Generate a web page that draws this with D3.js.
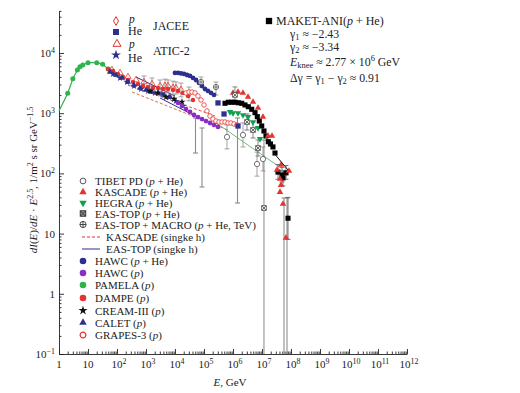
<!DOCTYPE html>
<html><head><meta charset="utf-8">
<script src="https://cdn.jsdelivr.net/npm/d3@7"></script>
<style>body{margin:0;background:#fff}svg{display:block}text{font-family:"Liberation Serif","Times New Roman",serif;fill:#222}</style>
</head><body><svg id="c" width="520" height="393"></svg>
<script>
// ---------- data (E in GeV, flux dI/dE*E^2.5) ----------
const xTickExp = [0,1,2,3,4,5,6,7,8,9,10,11,12];
const yTickExp = [-1,0,1,2,3,4];

const pamelaE = [2,3,4.3,5.3,6.6,10,20,32,50,70,100];
const pamelaF = [2140,3740,5200,5900,6300,6900,6900,6500,5400,4900,4300];
const pamelaFitE = [1,2,3,4.3,5.3,6.6,10,20,32,50,70,100];
const pamelaFitF = [1090,2140,3740,5200,5900,6300,6900,6900,6500,5400,4900,4300];

const dampeE = [49,73,108,161,239,356,530,789,1170,1740,2590,3860,5740,8530,12700,18900,28100,41800];
const dampeF = [5420,5020,4480,4000,3560,3300,3050,2830,2720,2620,2620,2520,2520,2430,2340,2170,1930,1660];

const caletE = [57,92,149,239,386,621,1000,1610,2590,4180,6730];
const caletF = [4830,4310,3850,3300,2940,2620,2430,2250,2170,2010,1860];

const aticHeE = [73,127,221,386,673,1170,2040,3560,6210,10800,18900];
const aticHeF = [4480,3850,3300,2830,2520,2340,2170,2090,1860,1590,1320];

const aticPE = [67,127,239,452,853,1610,3040,5740,10800];
const aticPF = [5220,4660,4000,3560,3300,3050,2830,2830,2620];

const creamE = [1370,2590,4900,9250,17400];
const creamF = [2340,2170,1860,1720,1540];

const jaceePE = [4520,8530,16100,30400];
const jaceePF = [2830,2620,2430,2090];

const hawcPHeE = [10000,12700,16100,20400,25900,32900,41800,53000,67300,85300,108000,137000,174000,221000];
const hawcPHeF = [4660,4660,4570,4480,4310,4150,3850,3560,3180,2830,2520,2340,2170,2010];

const hawcPE = [12700,17400,23900,32900,45200,62100,85300,117000,161000,221000,304000];
const hawcPF = [1480,1320,1170,1050,933,863,799,741,687,637,591];

const grapesE = [23900,30400,38500,49000,62100,78800,100000,127000,161000,204000,259000,329000,418000,530000,673000,853000,1080000,1370000];
const grapesF = [2170,2250,2250,2170,1930,1660,1370,1090,898,801,741,714,714,714,687,687,662,637];

const jaceeHeE = [304000,490000,1490000];
const jaceeHeF = [1480,970,613];

const emE = [78800,259000];
const emF = [3300,2720];
const emLo = [2720,2010];
const emHi = [3990,3300];

const hegraE = [789000,1.0e6,1.49e6,2.21e6,3.29e6,4.9e6,7.28e6,8.53e6];
const hegraF = [1047,1007,1007,933,865,714,568,373];

const kascE = [1.0e6,1.49e6,2.21e6,3.29e6,4.9e6,7.28e6,1.08e7,1.61e7,2.21e7,3.29e7,4.52e7,8.53e7,4.18e7,4.52e7,4.18e7,5.3e7,6.73e7];
const kascF = [2170,2250,2170,1860,1535,1220,865,418,418,114,138,110,81,64,49,31,8.5];

const maketE = [5.3e5,6.89e5,9.02e5,1.17e6,1.52e6,2.0e6,2.59e6,3.37e6,4.42e6,5.74e6,6.89e6,8.07e6,9.77e6,1.17e7,1.37e7,1.65e7,1.96e7,2.39e7,2.81e7,3.56e7,4.9e7,6.73e7,5.3e7,7.89e7];
const maketF = [1460,1520,1520,1520,1490,1460,1370,1280,1160,1020,875,742,613,506,418,336,308,275,218,105,94,102,84,18];
const maketErrE = [3.56e7,4.9e7,6.73e7,5.3e7,7.89e7];
const maketErrLo = [80,72,80,62,8];
const maketErrHi = [140,125,135,110,40];

const eastE = [1.17e6,3.04e6,4.9e6,7.28e6,1.17e7];
const eastF = [2010,714,526,264,26.6];
const eastLo = [1480,525,387,194,0.1];
const eastHi = [2730,970,715,359,359];

const tibetE = [621000,2.21e6,6.73e6,1.08e7];
const tibetF = [403,434,143,173];
const tibetLo = [255,275,90,110];
const tibetHi = [640,690,225,275];

const longE = [50900,85300,1.43e6,5.74e7,7.28e7];
const longLo = [218,59.4,32.2,0.1,0.1];
const longHi = [832,568,832,39,39];

const aticErrE = [853,1610,3040,5740,10800];
const aticErrLo = [2620,2420,2250,2250,2080];
const aticErrHi = [4150,3840,3560,3560,3300];

const kascSh1E = [239,239000],  kascSh1F = [2940,899];
const kascSh2E = [329,673000],  kascSh2F = [2250,526];
const eastSh1E = [452,10000],   eastSh1F = [3990,1930];
const eastSh2E = [3040,49000],  eastSh2F = [1790,898];
const greenLineE = [189000,3.56e7], greenLineF = [769,133];
const maketFitE = [2.39e7,7.89e7], maketFitF = [227,114];

// ---------- colours ----------
const RED="#e3342f", NAVY="#2e2f8f", PURPLE="#8a2fc4", GREEN="#2eb34e", HGREEN="#10a050", GRAY="#8c8c8c";

const svg = d3.select("#c");
const x = d3.scaleLog().domain([1,1e12]).range([59,407]);
const y = d3.scaleLog().domain([0.1,5e4]).range([354,10.9]);

// ---------- axes ----------
const xMinor=[], yMinor=[];
for (let e=0;e<12;e++) for (let k=2;k<10;k++) xMinor.push(k*Math.pow(10,e));
for (let e=-1;e<5;e++) for (let k=2;k<10;k++){const v=k*Math.pow(10,e); if(v<=5e4) yMinor.push(v);}
const xMajor = xTickExp.map(e=>Math.pow(10,e));
const yMajor = yTickExp.map(e=>Math.pow(10,e));

const gx = svg.append("g").attr("transform","translate(0,354)");
gx.call(d3.axisBottom(x).tickValues(xMajor).tickSize(-5).tickSizeOuter(0).tickFormat(""));
gx.append("g").call(d3.axisBottom(x).tickValues(xMinor).tickSize(-2.5).tickSizeOuter(0).tickFormat("")).select(".domain").remove();
const gy = svg.append("g").attr("transform","translate(59,0)");
gy.call(d3.axisLeft(y).tickValues(yMajor).tickSize(-5).tickSizeOuter(0).tickFormat(""));
gy.append("g").call(d3.axisLeft(y).tickValues(yMinor).tickSize(-2.5).tickSizeOuter(0).tickFormat("")).select(".domain").remove();
svg.selectAll(".domain, .tick line").attr("stroke","#222").attr("stroke-width",0.9);

function rich(sel, parts, fs){
  let shift=0;
  parts.forEach(p=>{
    const ts=sel.append("tspan").text(p.t);
    const target = p.sup ? -fs*0.4 : (p.sub ? fs*0.2 : 0);
    const dy = target-shift; if (dy) ts.attr("dy",dy);
    shift=target;
    if (p.sup||p.sub) ts.attr("font-size",fs*0.72);
    if (p.i) ts.attr("font-style","italic");
  });
  return sel;
}
function powParts(e){ if(e===0) return [{t:"1"}]; if(e===1) return [{t:"10"}]; return [{t:"10"},{t:(e<0?"\u2212":"")+Math.abs(e),sup:true}]; }

xTickExp.forEach(e=>{
  rich(svg.append("text").attr("x",x(Math.pow(10,e))+(e>1?2:0)).attr("y",368).attr("text-anchor","middle").attr("font-size",11), powParts(e), 11);
});
yTickExp.forEach(e=>{
  rich(svg.append("text").attr("x",55).attr("y",y(Math.pow(10,e))+4).attr("text-anchor","end").attr("font-size",11), powParts(e), 11);
});
rich(svg.append("text").attr("x",230).attr("y",386).attr("text-anchor","middle").attr("font-size",11),
  [{t:"E",i:true},{t:", GeV"}],11);
rich(svg.append("text").attr("transform","translate(37,180) rotate(-90)").attr("text-anchor","middle").attr("font-size",11),
  [{t:"dI",i:true},{t:"("},{t:"E",i:true},{t:")/"},{t:"dE",i:true},{t:" \u00b7 "},{t:"E",i:true},{t:"2.5",sup:true},{t:", 1/m"},{t:"2",sup:true},{t:" s sr GeV"},{t:"\u22121.5",sup:true}],11);

// ---------- symbols ----------
const crossSquare={draw(c,s){const h=Math.sqrt(s)/2;c.moveTo(-h,-h);c.lineTo(h,-h);c.lineTo(h,h);c.lineTo(-h,h);c.closePath();c.moveTo(-h,-h);c.lineTo(h,h);c.moveTo(h,-h);c.lineTo(-h,h);}};
const plusCircle={draw(c,s){const r=Math.sqrt(s/Math.PI);c.moveTo(r,0);c.arc(0,0,r,0,2*Math.PI);c.moveTo(-r,0);c.lineTo(r,0);c.moveTo(0,-r);c.lineTo(0,r);}};
const ST = {
  circle:d3.symbolCircle, tri:d3.symbolTriangle, square:d3.symbolSquare, star:d3.symbolStar,
  diamond:d3.symbolDiamond, xsq:crossSquare, pcirc:plusCircle
};
function marker(g, cx, cy, o){
  return g.append("path").attr("transform",`translate(${cx},${cy})${o.rot?" rotate(180)":""}`)
    .attr("d", d3.symbol(ST[o.type], o.size)())
    .attr("fill", o.fill||"none").attr("stroke", o.stroke||"none").attr("stroke-width", o.sw||1);
}
function series(E,F,o){
  const g=svg.append("g");
  E.forEach((e,i)=>marker(g, x(e), y(F[i]), o));
}
function line(E,F,o){
  svg.append("path").datum(d3.zip(E,F)).attr("fill","none")
    .attr("stroke",o.stroke).attr("stroke-width",o.sw||1).attr("stroke-dasharray",o.dash||null)
    .attr("d", d3.line().x(d=>x(d[0])).y(d=>y(d[1])));
}
function errs(E,lo,hi,o){
  const g=svg.append("g").attr("stroke",o.stroke).attr("stroke-width",o.sw||0.8).attr("fill","none");
  E.forEach((e,i)=>{
    const X=x(e), y1=y(Math.max(lo[i],0.1)), y2=y(hi[i]);
    g.append("line").attr("x1",X).attr("x2",X).attr("y1",y1).attr("y2",y2);
    g.append("line").attr("x1",X-2.5).attr("x2",X+2.5).attr("y1",y2).attr("y2",y2);
    if (lo[i]>0.1) g.append("line").attr("x1",X-2.5).attr("x2",X+2.5).attr("y1",y1).attr("y2",y1);
  });
}

// ---------- lines ----------
line(kascSh1E,kascSh1F,{stroke:RED,dash:"3,2",sw:0.9});
line(kascSh2E,kascSh2F,{stroke:"#c8643c",dash:"3,2",sw:0.9});
line(eastSh1E,eastSh1F,{stroke:NAVY,sw:1});
line(eastSh2E,eastSh2F,{stroke:NAVY,sw:1});
line(greenLineE,greenLineF,{stroke:"#6dbb7a",sw:1});
line(pamelaFitE,pamelaFitF,{stroke:GREEN,sw:1.2});

// ---------- error bars ----------
errs(longE,longLo,longHi,{stroke:GRAY,sw:1.1});
errs(aticErrE,aticErrLo,aticErrHi,{stroke:GRAY});
errs(jaceePE,jaceePF.map(v=>v/1.3),jaceePF.map(v=>v*1.3),{stroke:GRAY});
errs(emE,emLo,emHi,{stroke:GRAY});
errs(tibetE,tibetLo,tibetHi,{stroke:GRAY});
errs(eastE,eastLo,eastHi,{stroke:"#666"});
errs(maketErrE,maketErrLo,maketErrHi,{stroke:"#555"});

// ---------- markers ----------
series(pamelaE,pamelaF,{type:"circle",size:20,fill:GREEN});
series(dampeE,dampeF,{type:"circle",size:16,fill:RED});
series(aticPE,aticPF,{type:"tri",size:18,stroke:RED,sw:0.8});
series(caletE,caletF,{type:"tri",size:16,fill:NAVY});
series(aticHeE,aticHeF,{type:"star",size:16,fill:NAVY});
series(creamE,creamF,{type:"star",size:16,fill:"#111"});
series(jaceePE,jaceePF,{type:"diamond",size:18,stroke:RED,sw:0.8});
series(hawcPHeE,hawcPHeF,{type:"circle",size:18,fill:NAVY});
series(hawcPE,hawcPF,{type:"circle",size:18,fill:PURPLE});
series(grapesE,grapesF,{type:"circle",size:16,stroke:RED,sw:0.8,fill:"#fff"});
series(jaceeHeE,jaceeHeF,{type:"square",size:28,fill:NAVY});
series(emE,emF,{type:"pcirc",size:22,stroke:"#555",sw:0.8,fill:"#fff"});
series(hegraE,hegraF,{type:"tri",size:18,fill:HGREEN,rot:true});
series(maketE,maketF,{type:"square",size:26,fill:"#000"});
series(kascE,kascF,{type:"tri",size:18,fill:RED});
series(eastE,eastF,{type:"xsq",size:22,stroke:"#444",sw:0.8,fill:"#fff"});
series(tibetE,tibetF,{type:"circle",size:22,stroke:"#555",sw:0.8,fill:"#fff"});
line(maketFitE,maketFitF,{stroke:"#111",sw:1});

// ---------- bottom-left legend ----------
const FS=11;
const leg = [
  {m:{type:"circle",size:26,stroke:"#444",sw:0.9,fill:"#fff"}, p:[{t:"TIBET PD ("},{t:"p",i:true},{t:" + He)"}]},
  {m:{type:"tri",size:24,fill:RED}, p:[{t:"KASCADE ("},{t:"p",i:true},{t:" + He)"}]},
  {m:{type:"tri",size:24,fill:HGREEN,rot:true}, p:[{t:"HEGRA ("},{t:"p",i:true},{t:" + He)"}]},
  {m:{type:"xsq",size:30,stroke:"#333",sw:1,fill:"#999"}, p:[{t:"EAS-TOP ("},{t:"p",i:true},{t:" + He)"}]},
  {m:{type:"pcirc",size:30,stroke:"#333",sw:0.9,fill:"#fff"}, p:[{t:"EAS-TOP + MACRO ("},{t:"p",i:true},{t:" + He, TeV)"}]},
  {l:{stroke:RED,dash:"3,2"}, p:[{t:"KASCADE (singke h)"}]},
  {l:{stroke:NAVY}, p:[{t:"EAS-TOP (singke h)"}]},
  {m:{type:"circle",size:34,fill:NAVY}, p:[{t:"HAWC ("},{t:"p",i:true},{t:" + He)"}]},
  {m:{type:"circle",size:34,fill:PURPLE}, p:[{t:"HAWC ("},{t:"p",i:true},{t:")"}]},
  {m:{type:"circle",size:34,fill:GREEN}, p:[{t:"PAMELA ("},{t:"p",i:true},{t:")"}]},
  {m:{type:"circle",size:34,fill:RED}, p:[{t:"DAMPE ("},{t:"p",i:true},{t:")"}]},
  {m:{type:"star",size:26,fill:"#111"}, p:[{t:"CREAM-III ("},{t:"p",i:true},{t:")"}]},
  {m:{type:"tri",size:24,fill:NAVY}, p:[{t:"CALET ("},{t:"p",i:true},{t:")"}]},
  {m:{type:"circle",size:26,stroke:RED,sw:1.2,fill:"#fff"}, p:[{t:"GRAPES-3 ("},{t:"p",i:true},{t:")"}]}
];
const legY = [181,192,203,213.5,224.5,237,249,261,273,285,298,310.5,322.5,335];
const lg = svg.append("g");
leg.forEach((d,i)=>{
  const cy=legY[i];
  if (d.m){ marker(lg,83,cy,d.m); rich(lg.append("text").attr("x",95).attr("y",cy+4).attr("font-size",FS),d.p,FS); }
  else {
    lg.append("line").attr("x1",82).attr("x2",100).attr("y1",cy).attr("y2",cy).attr("stroke",d.l.stroke).attr("stroke-dasharray",d.l.dash||null);
    rich(lg.append("text").attr("x",106).attr("y",cy+4).attr("font-size",FS),d.p,FS);
  }
});

// ---------- top legend ----------
const tg=svg.append("g");
marker(tg,116,21,{type:"diamond",size:22,stroke:RED,sw:1,fill:"#fff"});
marker(tg,116,32,{type:"square",size:36,fill:NAVY});
marker(tg,117,44,{type:"tri",size:28,stroke:RED,sw:1,fill:"#fff"});
marker(tg,116,55,{type:"star",size:30,fill:NAVY});
tg.append("text").attr("x",129).attr("y",22.5).attr("font-size",11.5).attr("font-style","italic").text("p");
tg.append("text").attr("x",128).attr("y",35).attr("font-size",12).text("He");
tg.append("text").attr("x",153).attr("y",30).attr("font-size",12).text("JACEE");
tg.append("text").attr("x",129).attr("y",48).attr("font-size",11.5).attr("font-style","italic").text("p");
tg.append("text").attr("x",128).attr("y",61.5).attr("font-size",12).text("He");
tg.append("text").attr("x",153).attr("y",55).attr("font-size",12).text("ATIC-2");

// ---------- MAKET-ANI annotation ----------
const ag=svg.append("g");
const AF=11.8;
marker(ag,269,21,{type:"square",size:40,fill:"#000"});
rich(ag.append("text").attr("x",276).attr("y",25).attr("font-size",12),[{t:"MAKET-ANI("},{t:"p",i:true},{t:" + He)"}],12);
rich(ag.append("text").attr("x",290).attr("y",37.5).attr("font-size",AF),[{t:"\u03b3"},{t:"1",sub:true},{t:" \u2248 \u22122.43"}],AF);
rich(ag.append("text").attr("x",290).attr("y",51).attr("font-size",AF),[{t:"\u03b3"},{t:"2",sub:true},{t:" \u2248 \u22123.34"}],AF);
rich(ag.append("text").attr("x",290).attr("y",66).attr("font-size",AF),[{t:"E",i:true},{t:"knee",sub:true},{t:" \u2248 2.77 \u00d7 10"},{t:"6",sup:true},{t:" GeV"}],AF);
rich(ag.append("text").attr("x",290).attr("y",81.5).attr("font-size",AF),[{t:"\u0394\u03b3 = \u03b3"},{t:"1",sub:true},{t:" \u2212 \u03b3"},{t:"2",sub:true},{t:" \u2248 0.91"}],AF);
</script></body></html>
